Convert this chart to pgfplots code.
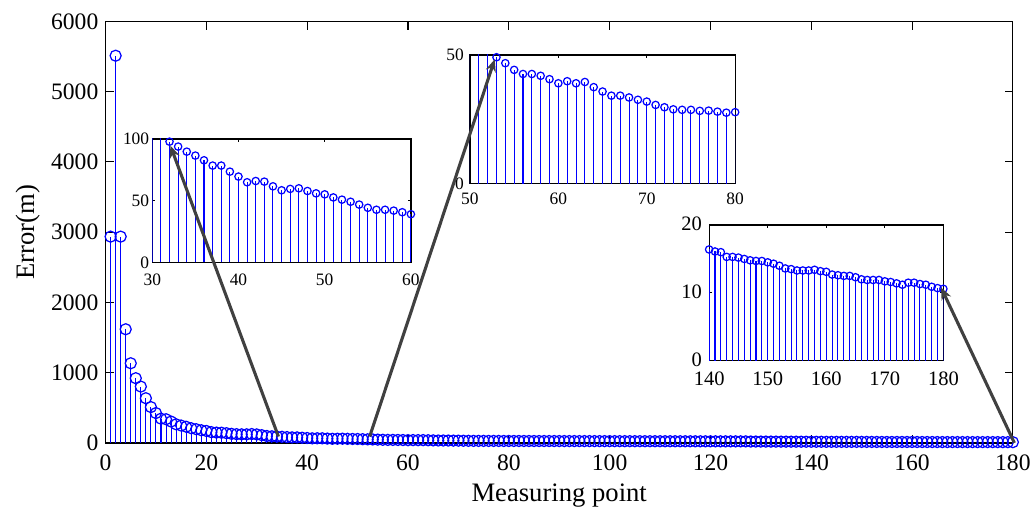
\documentclass[border=0pt]{standalone}
\usepackage{fontspec}
\setmainfont{Liberation Serif}
\usepackage{pgfplots}
\usepackage{pgfplotstable}
\pgfplotsset{compat=1.18}
\usetikzlibrary{arrows.meta}

% Positioning error at every measuring point
\pgfplotstableread{
x y
1 2937
2 5513
3 2937
4 1618
5 1134
6 921
7 802
8 636
9 510
10 425
11 345
12 337
13 304
14 265
15 247
16 230
17 209
18 195
19 180
20 170
21 153
22 147
23 145
24 138
25 129
26 124
27 122
28 122
29 126
30 121
31 110
32 97.8
33 93.8
34 89.7
35 86.5
36 82.7
37 78.4
38 78.4
39 73.5
40 69.5
41 64.9
42 65.9
43 65.4
44 61.6
45 58.4
46 59.5
47 60.0
48 57.8
49 55.9
50 55.1
51 52.6
52 50.8
53 49.1
54 46.8
55 44.2
56 42.6
57 42.6
58 41.9
59 40.6
60 39.0
61 39.8
62 39.0
63 39.5
64 37.5
65 35.8
66 34.2
67 34.2
68 33.5
69 32.6
70 31.9
71 30.6
72 29.7
73 28.9
74 28.7
75 28.7
76 28.3
77 28.4
78 28.0
79 27.6
80 27.8
81 27.6
82 27.4
83 27.3
84 27.1
85 27.0
86 26.8
87 26.7
88 26.6
89 26.4
90 26.3
91 26.1
92 26.0
93 25.9
94 25.7
95 25.6
96 25.5
97 25.3
98 25.2
99 25.1
100 24.9
101 24.8
102 24.7
103 24.5
104 24.4
105 24.3
106 24.2
107 24.0
108 23.9
109 23.8
110 23.7
111 23.5
112 23.4
113 23.3
114 23.2
115 23.1
116 22.9
117 22.8
118 22.7
119 22.6
120 22.5
121 22.4
122 22.2
123 22.1
124 22.0
125 21.9
126 21.8
127 21.7
128 19.6
129 19.3
130 19.0
131 18.8
132 18.5
133 18.3
134 18.0
135 17.8
136 17.5
137 17.3
138 17.0
139 16.7
140 16.4
141 16.1
142 16.0
143 15.3
144 15.3
145 15.2
146 15.0
147 14.8
148 14.7
149 14.7
150 14.5
151 14.3
152 14.0
153 13.6
154 13.5
155 13.3
156 13.3
157 13.3
158 13.4
159 13.2
160 13.1
161 12.7
162 12.6
163 12.5
164 12.5
165 12.3
166 12.0
167 11.9
168 11.9
169 11.9
170 11.7
171 11.6
172 11.4
173 11.2
174 11.5
175 11.5
176 11.3
177 11.2
178 10.9
179 10.7
180 10.6
}\errdata

\definecolor{arrowgray}{RGB}{64,64,64}

\pgfplotsset{
  stemaxis/.style={
    scale only axis,
    axis line style={black, line width=0.6pt},
    tick style={black, line width=0.5pt},
    tick align=inside,
    xtick pos=both, ytick pos=both,
    scaled ticks=false,
    /pgf/number format/assume math mode=true,
    /pgf/number format/1000 sep={},
    axis background/.style={fill=white},
    clip mode=individual,
  },
  stem/.style={
    ycomb, color=blue, line width=0.5pt,
    mark=o, mark options={line width=0.6pt, fill=none},
  },
}

\begin{document}
\begin{tikzpicture}
\useasboundingbox (-51.5pt,-32.2pt) rectangle (453.5pt,216.1pt);

% Full series
\begin{axis}[stemaxis,
  width=442.7pt, height=205.6pt,
  xmin=0, xmax=180, ymin=0, ymax=6000,
  xtick={0,20,...,180}, ytick={0,1000,...,6000},
  major tick length=4pt,
  tick label style={font=\fontsize{11.5}{13}\selectfont},
  xticklabel style={yshift=-2.5pt},
  label style={font=\fontsize{13}{15}\selectfont},
  xlabel={Measuring point},
  ylabel={Error(m)},
  x label style={at={(axis description cs:0.5,0)}, anchor=center, yshift=-25.6pt},
  y label style={at={(axis description cs:-0.0854,0.5)}, anchor=center},
]
\addplot[stem, mark size=2.7pt] table[x=x, y=y] {\errdata};
\coordinate (fromA) at (axis cs:34.3,90);
\coordinate (fromB) at (axis cs:52.4,90);
\coordinate (fromC) at (axis cs:180.3,0);
\end{axis}

% Points 30-60
\begin{axis}[stemaxis,
  at={(22.8pt,88.1pt)}, anchor=south west,
  width=126.2pt, height=60.2pt,
  xmin=30, xmax=60, ymin=0, ymax=100,
  xtick={30,40,50,60}, ytick={0,50,100},
  major tick length=1.5pt,
  tick label style={font=\fontsize{8.5}{10}\selectfont},
  xticklabel style={yshift=-2pt}, yticklabel style={xshift=2pt},
]
\addplot[stem, mark size=1.8pt, restrict x to domain=29:61] table[x=x, y=y] {\errdata};
\coordinate (toA) at (axis cs:32.1,94.6);
\end{axis}

% Points 50-80
\begin{axis}[stemaxis,
  at={(177.8pt,126.4pt)}, anchor=south west,
  width=129.4pt, height=62.9pt,
  xmin=50, xmax=80, ymin=0, ymax=50,
  xtick={50,60,70,80}, ytick={0,50},
  major tick length=1.5pt,
  tick label style={font=\fontsize{8.5}{10}\selectfont},
  xticklabel style={yshift=-1pt}, yticklabel style={xshift=0.5pt},
]
\addplot[stem, mark size=1.8pt, restrict x to domain=49:81] table[x=x, y=y] {\errdata};
\coordinate (toB) at (axis cs:52.8,48.3);
\end{axis}

% Points 140-180
\begin{axis}[stemaxis,
  at={(294.5pt,40.1pt)}, anchor=south west,
  width=114.3pt, height=66.2pt,
  xmin=140, xmax=180, ymin=0, ymax=20,
  xtick={140,150,...,180}, ytick={0,10,20},
  major tick length=1.5pt,
  tick label style={font=\fontsize{10}{12}\selectfont},
  xticklabel style={yshift=-2pt}, yticklabel style={xshift=0pt, yshift=0.5pt},
]
\addplot[stem, mark size=1.8pt, restrict x to domain=139:181] table[x=x, y=y] {\errdata};
\coordinate (toC) at (axis cs:179.6,10.8);
\end{axis}

% Pointers from the full series to the enlarged views
\begin{scope}[arrowgray, line width=1.5pt, -{Stealth[length=6pt, width=5pt]}]
\draw (fromA) -- (toA);
\draw (fromB) -- (toB);
\draw (fromC) -- (toC);
\end{scope}
\end{tikzpicture}
\end{document}
